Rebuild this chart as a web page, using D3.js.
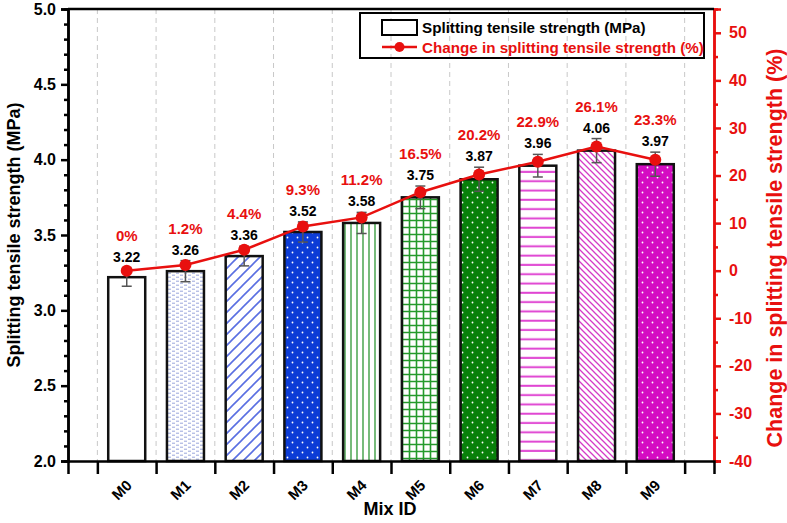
<!DOCTYPE html>
<html><head><meta charset="utf-8">
<script src="https://cdn.jsdelivr.net/npm/d3@7/dist/d3.min.js"></script>
<style>
body{margin:0;background:#fff;}
text{font-family:"Liberation Sans",Arial,sans-serif;font-weight:bold;}
</style></head>
<body>
<svg id="chart" width="787" height="523"></svg>
<script>
const categories = ["M0","M1","M2","M3","M4","M5","M6","M7","M8","M9"];
const strength = [3.22,3.26,3.36,3.52,3.58,3.75,3.87,3.96,4.06,3.97];
const strengthErr = [0.06,0.07,0.065,0.067,0.07,0.075,0.08,0.075,0.08,0.08];
const changePct = [0,1.2,4.4,9.3,11.2,16.5,20.2,22.9,26.1,23.3];
const changeLabels = ["0%","1.2%","4.4%","9.3%","11.2%","16.5%","20.2%","22.9%","26.1%","23.3%"];
const leftTicks = [2.0,2.5,3.0,3.5,4.0,4.5,5.0];
const rightTicks = [-40,-30,-20,-10,0,10,20,30,40,50];
const patterns = ["none","texture","diagUpBlue","dotsBlue","vlinesGreen","gridGreen","dotsGreen","hlinesMagenta","diagDownMagenta","dotsMagenta"];

const svg = d3.select("#chart");
const L=68,R=714,T=9,B=461;
const x = d3.scaleLinear().domain([0,11]).range([L,R]);
const y = d3.scaleLinear().domain([2,5]).range([B,T]);
const y2 = d3.scaleLinear().domain([-40,55]).range([B,T]);
const red="#e8100f";

// patterns
const defs = svg.append("defs");
function pat(id,w,h,bg){
  const p=defs.append("pattern").attr("id",id).attr("patternUnits","userSpaceOnUse").attr("width",w).attr("height",h);
  p.append("rect").attr("width",w).attr("height",h).attr("fill",bg);
  return p;
}
let p;
p=pat("texture",8,4,"#fff");
p.append("path").attr("d","M0,1.2H3M4,3.2H7").attr("stroke","#9aa6dc").attr("stroke-width",1);
p=pat("diagUpBlue",11,11,"#fff");
p.append("path").attr("d","M0,11L11,0M-2,2L2,-2M9,13L13,9").attr("stroke","#5a6fe2").attr("stroke-width",1.6);
function dots(id,bg){
  const q=pat(id,10,10,bg);
  q.append("circle").attr("cx",2.5).attr("cy",2.5).attr("r",0.9).attr("fill","#fff");
  q.append("circle").attr("cx",7.5).attr("cy",7.5).attr("r",0.9).attr("fill","#fff");
}
dots("dotsBlue","#0c3cd6");
dots("dotsGreen","#08800a");
dots("dotsMagenta","#d40cc2");
p=pat("vlinesGreen",6,6,"#fff");
p.append("path").attr("d","M3,0V6").attr("stroke","#3d9e43").attr("stroke-width",1.4);
p=pat("gridGreen",7,7,"#fff");
p.append("path").attr("d","M3.5,0V7M0,3.5H7").attr("stroke","#249a2b").attr("stroke-width",1.6);
p=pat("hlinesMagenta",9,9.3,"#fff");
p.append("path").attr("d","M0,4.5H9").attr("stroke","#e045d2").attr("stroke-width",2);
p=pat("diagDownMagenta",6,6,"#fff");
p.append("path").attr("d","M0,0L6,6M-2,4L2,8M4,-2L8,2").attr("stroke","#d43cc6").attr("stroke-width",1.3);

// grid
const gridPos = d3.range(0,11).map(i=>i+0.5);
svg.append("g").selectAll("line").data(gridPos).join("line")
  .attr("x1",d=>x(d)).attr("x2",d=>x(d)).attr("y1",T).attr("y2",B)
  .attr("stroke","#c8c8c8").attr("stroke-width",1).attr("stroke-dasharray","5,4");

// bars
const bw = 0.63;
svg.append("g").selectAll("rect").data(strength).join("rect")
  .attr("x",(d,i)=>x(i+1-bw/2)).attr("width",x(bw)-x(0))
  .attr("y",d=>y(d)).attr("height",d=>y(2)-y(d))
  .attr("fill",(d,i)=>patterns[i]==="none"?"#fff":`url(#${patterns[i]})`)
  .attr("stroke","#111").attr("stroke-width",2.5);

// error bars
const eg = svg.append("g").attr("stroke","#555").attr("stroke-width",1.5);
strength.forEach((v,i)=>{
  const cx=x(i+1), e=strengthErr[i];
  eg.append("line").attr("x1",cx).attr("x2",cx).attr("y1",y(v-e)).attr("y2",y(v+e));
  eg.append("line").attr("x1",cx-5).attr("x2",cx+5).attr("y1",y(v-e)).attr("y2",y(v-e));
  eg.append("line").attr("x1",cx-5).attr("x2",cx+5).attr("y1",y(v+e)).attr("y2",y(v+e));
});

// line
const line = d3.line().x((d,i)=>x(i+1)).y(d=>y2(d));
svg.append("path").datum(changePct).attr("d",line).attr("fill","none").attr("stroke",red).attr("stroke-width",2.5);
svg.append("g").selectAll("circle").data(changePct).join("circle")
  .attr("cx",(d,i)=>x(i+1)).attr("cy",d=>y2(d)).attr("r",6).attr("fill",red);

// labels
svg.append("g").selectAll("text").data(strength).join("text")
  .attr("x",(d,i)=>x(i+1)).attr("y",(d,i)=>y(d+strengthErr[i])-6)
  .attr("text-anchor","middle").attr("font-size",14).attr("fill","#000")
  .text(d=>d.toFixed(2));
svg.append("g").selectAll("text").data(changeLabels).join("text")
  .attr("x",(d,i)=>x(i+1)).attr("y",(d,i)=>y(strength[i]+strengthErr[i])-27)
  .attr("text-anchor","middle").attr("font-size",15).attr("fill",red)
  .text(d=>d);

// axes
const ax = svg.append("g").attr("transform",`translate(${L},0)`)
  .call(d3.axisLeft(y).tickValues(leftTicks).tickFormat(d3.format(".1f")).tickSize(7).tickPadding(5));
ax.selectAll("text").attr("font-size",16).attr("fill","#000").style("font-family","Liberation Sans, Arial").style("font-weight","bold");
const minorL = d3.range(21,50).map(v=>v/10).filter(v=>Math.abs(v*2-Math.round(v*2))>1e-6);
svg.append("g").attr("transform",`translate(${L},0)`)
  .call(d3.axisLeft(y).tickValues(minorL).tickFormat("").tickSize(4));
svg.selectAll("g .domain, g .tick line").attr("stroke","#000").attr("stroke-width",2.5);

const ar = svg.append("g").attr("transform",`translate(${R},0)`)
  .call(d3.axisRight(y2).tickValues(rightTicks).tickFormat(d=>String(d)).tickSize(7).tickPadding(8));
ar.selectAll("text").attr("font-size",16).attr("fill",red).style("font-family","Liberation Sans, Arial").style("font-weight","bold");
const ar2 = svg.append("g").attr("transform",`translate(${R},0)`)
  .call(d3.axisRight(y2).tickValues(d3.range(-35,50,10)).tickFormat("").tickSize(4));
[ar,ar2].forEach(g=>g.selectAll(".domain, .tick line").attr("stroke",red).attr("stroke-width",2.5));

// bottom axis
const ab = svg.append("g").attr("transform",`translate(0,${B})`)
  .call(d3.axisBottom(x).tickValues(gridPos).tickFormat("").tickSize(13));
ab.selectAll(".domain, .tick line").attr("stroke","#000").attr("stroke-width",2.5);
svg.append("line").attr("x1",L).attr("x2",R).attr("y1",T).attr("y2",T).attr("stroke","#000").attr("stroke-width",2.5);

// category labels, rotated 45° around their centre
svg.append("g").selectAll("text.cat").data(categories).join("text")
  .attr("class","cat")
  .attr("transform",(d,i)=>`translate(${x(i+1)-5},${B+29}) rotate(-45)`)
  .attr("text-anchor","middle").attr("dy","0.35em").attr("font-size",15).attr("fill","#000")
  .text(d=>d);

// titles
svg.append("text").attr("x",390).attr("y",515).attr("text-anchor","middle").attr("font-size",18).text("Mix ID");
svg.append("text").attr("transform",`translate(20,${(T+B)/2}) rotate(-90)`).attr("text-anchor","middle")
  .attr("font-size",18).text("Splitting tensile strength (MPa)");
svg.append("text").attr("transform",`translate(782,248) rotate(-90)`).attr("text-anchor","middle")
  .attr("font-size",21.5).attr("fill",red).text("Change in splitting tensile strength (%)");

// legend
const lg = svg.append("g");
lg.append("rect").attr("x",360).attr("y",13).attr("width",344).attr("height",45).attr("fill","none").attr("stroke","#000").attr("stroke-width",2);
lg.append("rect").attr("x",382).attr("y",20).attr("width",35).attr("height",15).attr("fill","#fff").attr("stroke","#000").attr("stroke-width",2);
lg.append("text").attr("x",422).attr("y",33).attr("font-size",15.2).attr("fill","#000").text("Splitting tensile strength (MPa)");
lg.append("line").attr("x1",382).attr("x2",417).attr("y1",47).attr("y2",47).attr("stroke",red).attr("stroke-width",2.5);
lg.append("circle").attr("cx",399.5).attr("cy",47).attr("r",5).attr("fill",red);
lg.append("text").attr("x",422).attr("y",52.5).attr("font-size",15.2).attr("fill",red).text("Change in splitting tensile strength (%)");
</script>
</body></html>
